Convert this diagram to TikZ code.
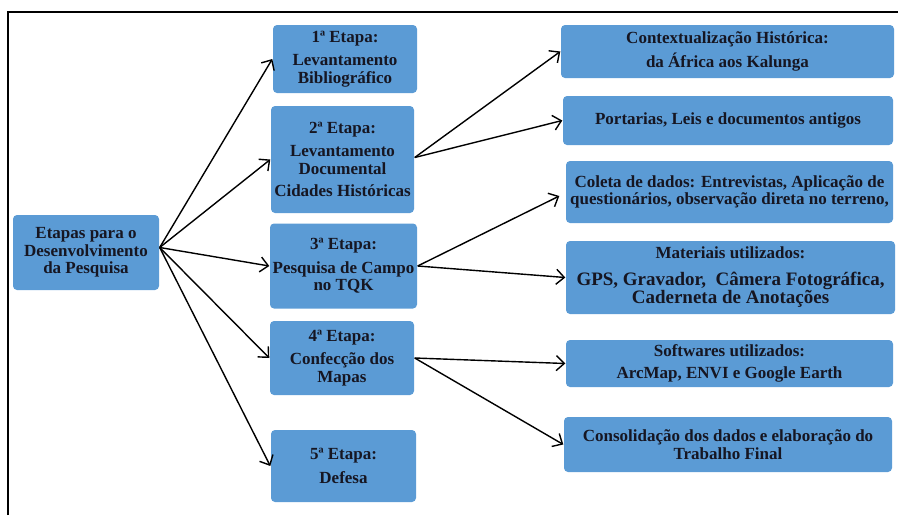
\documentclass[tikz,border=0pt]{standalone}
\usepackage{fontspec}
\setmainfont{Liberation Serif}
\usetikzlibrary{arrows.meta}
\definecolor{etapablue}{RGB}{91,155,213}
\definecolor{etapatext}{RGB}{22,22,34}
\newcommand{\grande}[1]{{\fontsize{19}{20}\selectfont #1}}

\begin{document}
\begin{tikzpicture}[x=1pt,y=-1pt,
	etapa/.style={fill=etapablue, rounded corners=4pt, align=center, inner sep=2pt,
		text=etapatext, font=\bfseries\fontsize{17}{17.5}\selectfont},
	>={Straight Barb[length=8pt,width=15pt]}, line width=1.4pt]
	\useasboundingbox (0,0) rectangle (898,515);
	\draw [line width=1.6pt] (8,515) -- (8,12) -- (898,12);
	%
	\node [etapa, minimum width=146pt, minimum height=75pt] (pesquisa) at (86,252.5) {Etapas para o\\Desenvolvimento\\da Pesquisa};
	\node [etapa, minimum width=144pt, minimum height=68pt] (e1) at (345,59) {1ª Etapa:\\[6pt]Levantamento\\Bibliográfico};
	\node [etapa, minimum width=143pt, minimum height=107pt] (e2) at (342.5,159.5) {2ª Etapa:\\[6pt]Levantamento\\Documental\\[5pt]Cidades Históricas};
	\node [etapa, minimum width=147pt, minimum height=85pt] (e3) at (343.5,266) {3ª Etapa:\\[6pt]Pesquisa de Campo\\no TQK};
	\node [etapa, minimum width=144pt, minimum height=74pt] (e4) at (342,358) {4ª Etapa:\\[6pt]Confecção dos\\Mapas};
	\node [etapa, minimum width=145pt, minimum height=72pt] (e5) at (343.5,466) {5ª Etapa:\\[6pt]Defesa};
	%
	\node [etapa, minimum width=333pt, minimum height=53pt] (historia) at (727.5,51.5) {Contextualização Histórica:\\[5pt]da África aos Kalunga};
	\node [etapa, minimum width=330pt, minimum height=49pt] (portarias) at (728,120.5) {Portarias, Leis e documentos antigos};
	\node [etapa, minimum width=327pt, minimum height=62pt] (coleta) at (729.5,192) {Coleta de dados: Entrevistas, Aplicação de\\questionários, observação direta no terreno,};
	\node [etapa, minimum width=329pt, minimum height=73pt] (materiais) at (730.5,277.5) {Materiais utilizados:\\[9pt]\grande{GPS, Gravador,~ Câmera Fotográfica,}\\[1pt]\grande{Caderneta de Anotações}};
	\node [etapa, minimum width=327pt, minimum height=47pt] (softwares) at (729.5,363.5) {Softwares utilizados:\\[4pt]ArcMap, ENVI e Google Earth};
	\node [etapa, minimum width=328pt, minimum height=55pt] (final) at (728,444.5) {Consolidação dos dados e elaboração do\\Trabalho Final};
	%
	\draw [->] ([yshift=5pt]pesquisa.east) to (e1.west);
	\draw [->] ([yshift=5pt]pesquisa.east) to (e2.west);
	\draw [->] ([yshift=5pt]pesquisa.east) to (e3.west);
	\draw [->] ([yshift=5pt]pesquisa.east) to (e4.west);
	\draw [->] ([yshift=5pt]pesquisa.east) to (e5.west);
	\draw [->] ([yshift=2pt]e2.east) to (historia.west);
	\draw [->] ([yshift=2pt]e2.east) to (portarias.west);
	\draw [->] (e3.east) to ([xshift=-6pt,yshift=-4pt]coleta.west);
	\draw [->] (e3.east) to (materiais.west);
	\draw [->] (e4.east) to (softwares.west);
	\draw [->] (e4.east) to (final.west);
\end{tikzpicture}
\end{document}
